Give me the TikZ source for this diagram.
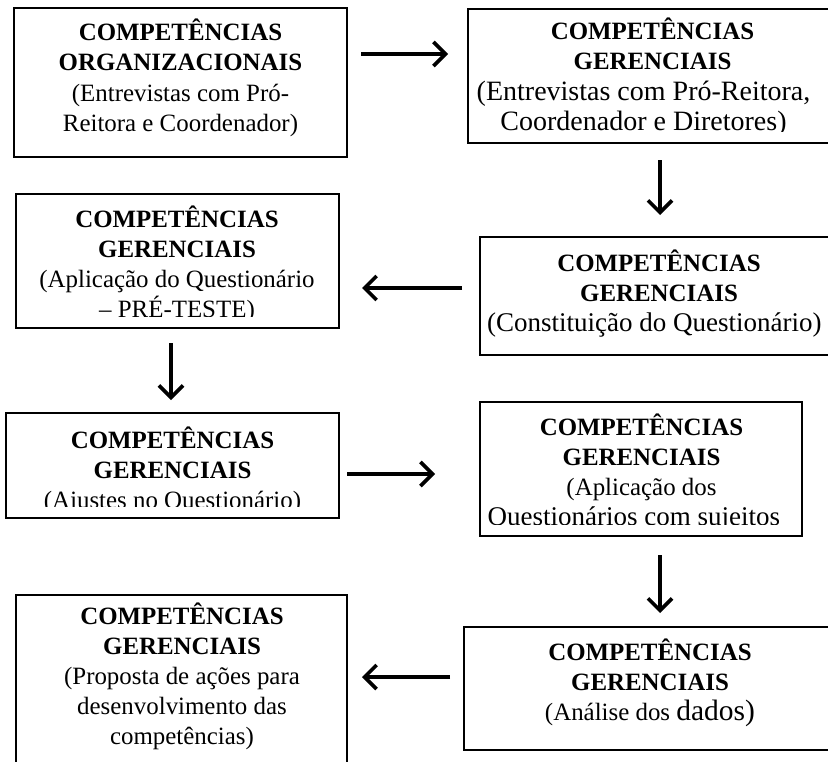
\documentclass[tikz,border=0pt]{standalone}
\usepackage{fontspec}
\setmainfont{Liberation Serif}
\usetikzlibrary{arrows.meta}
\newcommand\hd[1]{\textbf{#1}}
\newcommand\lines[1]{\begin{tabular}[t]{@{}c@{}}#1\end{tabular}}
\newcommand\fs[1]{\fontsize{#1bp}{30bp}\selectfont}
\begin{document}
\begin{tikzpicture}[x=1bp,y=-1bp,
  box/.style={draw, line width=2.4bp, rectangle, inner sep=0pt, outer sep=0pt},
  txt/.style={anchor=base, inner sep=0pt, outer sep=0pt, font=\fontsize{24.9bp}{30bp}\selectfont},
  arr/.style={line width=4bp, -{Straight Barb[length=12bp,width=24bp,line width=3.6bp]}}]
\useasboundingbox (0,0) rectangle (828,762);
% boxes
\node[box, minimum width=333bp, minimum height=149bp] (b1) at (180.5,82.5) {};
\node[box, minimum width=369bp, minimum height=134bp] (b2) at (652.5,76) {};
\node[box, minimum width=323bp, minimum height=134bp] (b3) at (177.5,261) {};
\node[box, minimum width=358bp, minimum height=118bp] (b4) at (659,296) {};
\node[box, minimum width=333bp, minimum height=105bp] (b5) at (172.5,465.5) {};
\node[box, minimum width=322bp, minimum height=134bp] (b6) at (641,469) {};
\node[box, minimum width=331bp, minimum height=190bp] (b7) at (181.5,690) {};
\node[box, minimum width=372bp, minimum height=123bp] (b8) at (650,688.5) {};
% texts
\begin{scope}
\clip (b1.north west) rectangle ([yshift=12bp]b1.south east);
\node[txt] (t1) at (180.5,41) {\lines{\hd{COMPETÊNCIAS}\\ \hd{ORGANIZACIONAIS}\\ (Entrevistas com Pró-\\ Reitora e Coordenador)}};
\end{scope}
\begin{scope}
\clip (b2.north west) rectangle ([yshift=12bp]b2.south east);
\node[txt] (t2) at (640,40) {\lines{\hspace*{25bp}\hd{COMPETÊNCIAS}\\ \hspace*{25bp}\hd{GERENCIAIS}\\ \fs{28} (Entrevistas com Pró-Reitora,\\ \fs{28} Coordenador e Diretores)}};
\end{scope}
\begin{scope}
\clip (b3.north west) rectangle ([yshift=12bp]b3.south east);
\node[txt] (t3) at (177,227) {\lines{\hd{COMPETÊNCIAS}\\ \hd{GERENCIAIS}\\ (Aplicação do Questionário\\ – PRÉ-TESTE)}};
\end{scope}
\begin{scope}
\clip (b4.north west) rectangle ([yshift=12bp]b4.south east);
\node[txt] (t4) at (651,271) {\lines{\hspace*{16bp}\hd{COMPETÊNCIAS}\\ \hspace*{16bp}\hd{GERENCIAIS}\\ \fs{27} (Constituição do Questionário)}};
\end{scope}
\begin{scope}
\clip (b5.north west) rectangle ([yshift=12bp]b5.south east);
\node[txt] (t5) at (172.5,448) {\lines{\hd{COMPETÊNCIAS}\\ \hd{GERENCIAIS}\\ (Ajustes no Questionário)}};
\end{scope}
\begin{scope}
\clip (b6.north west) rectangle ([yshift=12bp]b6.south east);
\node[txt] (t6) at (641.5,435) {\lines{\hd{COMPETÊNCIAS}\\ \hd{GERENCIAIS}\\ (Aplicação dos\\ \hspace*{-22bp}\fs{27} Questionários com sujeitos}};
\end{scope}
\begin{scope}
\clip (b7.north west) rectangle ([yshift=12bp]b7.south east);
\node[txt] (t7) at (182,624) {\lines{\hd{COMPETÊNCIAS}\\ \hd{GERENCIAIS}\\ (Proposta de ações para\\ desenvolvimento das\\ competências)}};
\end{scope}
\begin{scope}
\clip (b8.north west) rectangle ([yshift=12bp]b8.south east);
\node[txt] (t8) at (650,660) {\lines{\hd{COMPETÊNCIAS}\\ \hd{GERENCIAIS}\\ (Análise dos {\fs{29.5}dados)}}};
\end{scope}
% arrow end points
\coordinate (a1s) at (361,54);  \coordinate (a1e) at (448,54);
\coordinate (a2s) at (660,160); \coordinate (a2e) at (660,215);
\coordinate (a3s) at (462,288); \coordinate (a3e) at (362,288);
\coordinate (a4s) at (171,343); \coordinate (a4e) at (171,400);
\coordinate (a5s) at (347,474); \coordinate (a5e) at (435,474);
\coordinate (a6s) at (660,555); \coordinate (a6e) at (660,613);
\coordinate (a7s) at (450,677); \coordinate (a7e) at (362,677);
\draw[arr] (a1s) -- (a1e);
\draw[arr] (a2s) -- (a2e);
\draw[arr] (a3s) -- (a3e);
\draw[arr] (a4s) -- (a4e);
\draw[arr] (a5s) -- (a5e);
\draw[arr] (a6s) -- (a6e);
\draw[arr] (a7s) -- (a7e);
\end{tikzpicture}
\end{document}
